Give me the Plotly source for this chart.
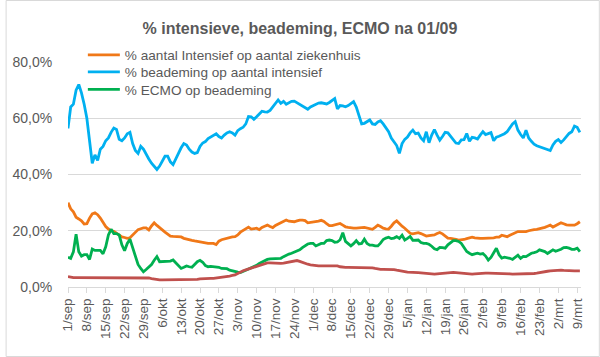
import pandas as pd
import plotly.graph_objects as go

start_date = "2020-09-01"

intensief_op_ziekenhuis = [
    30.0, 27.8, 26.7, 24.8, 24.2, 23.5, 22.4, 22.5, 24.5, 26.0,
    26.4, 25.7, 24.5, 22.9, 21.5, 20.6, 20.0, 19.8, 19.2, 18.4,
    17.8, 17.6, 17.3, 17.5, 18.4, 19.4, 20.4, 20.7, 21.0, 21.0,
    20.3, 21.7, 22.8, 21.9, 21.0, 20.1, 19.5, 18.8, 18.1, 18.0,
    17.9, 17.9, 17.8, 17.3, 17.0, 16.7, 16.6, 16.4, 16.2, 16.0,
    15.8, 15.7, 15.5, 15.5, 15.5, 15.1, 16.3, 16.8, 17.1, 17.3,
    17.6, 17.8, 17.9, 18.5, 19.5, 20.1, 20.8, 21.3, 20.6, 20.7,
    20.9, 20.4, 21.2, 21.6, 22.0, 21.5, 21.1, 21.9, 22.4, 22.9,
    23.4, 23.8, 23.4, 23.2, 23.2, 23.5, 23.8, 23.8, 23.6, 22.8,
    22.9, 23.2, 23.2, 23.4, 23.7, 23.3, 22.5, 21.8, 21.8, 22.0,
    22.3, 22.6, 22.0, 21.4, 21.2, 21.0, 20.9, 20.9, 20.9, 21.1,
    21.2, 21.0, 20.8, 20.5, 21.2, 22.0, 21.5, 20.9, 20.7, 20.6,
    21.6, 22.8, 23.5, 22.4, 21.6, 20.9, 20.0, 19.1, 18.9, 19.0,
    19.3, 19.0, 18.6, 18.1, 18.3, 18.5, 18.5, 19.0, 19.4, 18.9,
    18.3, 17.4, 17.3, 17.2, 16.9, 16.7, 16.7, 16.9, 17.2, 17.5,
    17.7, 17.5, 17.3, 17.3, 17.3, 17.3, 17.3, 17.3, 17.5, 17.7,
    17.7, 18.4, 18.2, 17.9, 18.4, 18.8, 19.4, 19.7, 19.7, 19.7,
    19.7, 20.0, 20.3, 20.4, 20.5, 20.7, 20.9, 21.2, 21.6, 22.0,
    21.3, 21.8, 22.5, 22.8, 22.5, 22.1, 22.0, 22.0, 22.0, 22.5,
    23.2,
]

beademing_op_intensief = [
    56.4, 64.0, 65.0, 70.0, 72.0, 69.0, 65.0, 60.0, 52.0, 44.0,
    47.0, 45.0, 49.0, 50.0, 52.0, 53.0, 55.0, 56.5, 56.0, 52.5,
    52.0, 53.0, 54.5, 55.0, 51.0, 48.5, 47.5, 50.0, 49.0, 47.0,
    45.5, 44.0, 43.0, 41.8, 43.0, 44.6, 46.5, 46.5, 44.5, 43.5,
    45.8, 47.5, 49.5, 51.0, 50.5, 49.0, 48.0, 47.5, 47.8, 50.0,
    51.2, 51.7, 52.8, 53.3, 53.8, 54.5, 53.5, 53.0, 54.0, 54.8,
    55.2, 54.8, 54.0, 55.6, 56.3, 56.8, 58.0, 60.6, 60.5, 59.6,
    60.5, 61.5, 62.5, 62.3, 62.2, 62.8, 64.0, 65.5, 66.5, 65.3,
    66.0, 65.0, 65.5, 66.0, 66.1, 65.5, 65.0, 64.3, 63.8, 63.2,
    64.0, 64.5, 65.1, 65.4, 65.5, 65.2, 65.1, 65.6, 66.3, 67.0,
    63.3, 64.5, 64.4, 64.1, 64.5, 65.3, 65.9, 64.0, 60.5, 58.0,
    58.2, 58.8, 59.4, 58.0, 57.8, 58.7, 59.1, 58.0, 56.5, 55.2,
    53.0, 51.5, 50.3, 47.5, 51.0, 52.5, 53.3, 54.8, 55.8, 54.5,
    54.7, 53.0, 52.0, 55.2, 51.3, 54.0, 56.0, 54.0, 52.2, 53.5,
    55.0, 54.8, 53.6, 52.5, 51.2, 51.0, 52.3, 52.4, 54.6, 51.8,
    53.2, 53.0, 52.6, 54.0, 55.2, 54.2, 54.5, 54.9, 52.0, 53.3,
    53.6, 54.0, 54.5, 55.2, 56.8, 58.0, 58.8, 55.8, 54.2, 53.0,
    55.7, 53.0, 51.8, 50.8, 50.2, 49.9, 49.6, 49.3, 49.0, 48.5,
    50.5, 51.8, 52.4, 51.4, 52.3, 53.5, 54.6, 55.2, 57.2, 56.8,
    55.0,
]

ecmo_op_beademing = [
    10.6, 10.2, 12.5, 18.8, 12.5, 11.0, 11.5, 11.5, 9.8, 13.5,
    13.0, 13.0, 13.0, 11.8, 14.3, 18.5, 20.5, 19.0, 19.0, 18.5,
    15.0, 12.9, 15.5, 17.0, 13.8, 10.5, 8.0, 6.6, 5.4, 6.2,
    7.0, 8.0, 9.5, 10.8, 9.0, 9.0, 9.0, 9.0, 9.2, 9.6,
    8.5, 7.3, 6.6, 7.0, 7.5, 7.2, 7.0, 8.0, 9.0, 9.5,
    8.8, 7.6, 7.2, 7.3, 7.2, 7.3, 7.0, 6.6, 6.6, 6.5,
    6.0, 5.7, 5.5, 5.3, 5.1, 5.5, 6.0, 6.4, 6.8, 7.2,
    7.7, 8.4, 8.9, 9.4, 9.8, 10.0, 10.1, 10.2, 10.2, 10.2,
    10.8, 11.4, 11.7, 12.0, 12.4, 12.8, 13.2, 14.0, 14.8, 15.3,
    15.5, 15.5, 14.6, 15.0, 15.5, 15.5, 16.5, 16.7, 16.5, 15.9,
    16.0, 16.8, 19.3, 16.2, 15.4, 14.6, 15.4, 16.5, 15.3, 15.5,
    17.0, 15.5, 14.9, 14.9, 14.6, 14.6, 15.6, 16.9, 17.4, 17.7,
    17.2, 17.4, 17.9, 17.3, 18.4, 16.7, 17.3, 18.0, 16.6, 16.6,
    16.7, 15.8, 15.5, 15.5, 15.2, 14.5, 13.6, 13.3, 14.1, 14.0,
    13.8, 15.0, 15.6, 16.5, 16.5, 16.2, 15.5, 13.8, 12.6, 12.0,
    11.5, 11.8, 12.0, 11.7, 11.9, 11.0, 9.6, 10.5, 12.0, 13.8,
    11.5, 10.3, 10.6, 10.5, 10.2, 9.8, 10.4, 11.3, 10.2, 10.9,
    10.8, 11.4, 12.0, 12.2, 12.5, 13.2, 12.9, 12.6, 11.9, 12.6,
    13.2, 12.7, 13.0, 13.4, 14.0, 14.1, 13.8, 13.4, 13.4, 13.8,
    12.6,
]

rode_reeks = [
    3.7, 3.4, 3.3, 3.3, 3.3, 3.3, 3.3, 3.3, 3.3, 3.3,
    3.3, 3.3, 3.3, 3.3, 3.3, 3.3, 3.3, 3.3, 3.3, 3.3,
    3.4, 3.4, 3.4, 3.4, 3.4, 3.4, 3.4, 3.4, 3.4, 3.3,
    3.2, 3.0, 2.8, 2.6, 2.5, 2.5, 2.5, 2.5, 2.5, 2.5,
    2.5, 2.5, 2.5, 2.5, 2.5, 2.5, 2.5, 2.5, 2.7, 2.9,
    3.0, 3.0, 3.0, 3.1, 3.1, 3.2, 3.3, 3.4, 3.6, 3.7,
    3.9, 4.1, 4.3, 4.8, 5.4, 5.8, 6.1, 6.4, 6.7, 7.0,
    7.3, 7.7, 8.0, 8.4, 8.6, 8.6, 8.5, 8.4, 8.4, 8.4,
    8.5, 8.7, 9.0, 9.1, 9.3, 9.4, 9.1, 8.7, 8.4, 8.1,
    7.9, 7.7, 7.6, 7.5, 7.5, 7.5, 7.5, 7.5, 7.5, 7.5,
    7.5, 7.2, 7.0, 7.0, 7.0, 7.0, 7.0, 7.0, 7.0, 7.0,
    7.0, 7.0, 7.0, 6.8, 6.6, 6.4, 6.3, 6.3, 6.3, 6.3,
    6.3, 6.2, 6.0, 5.9, 5.8, 5.5, 5.3, 5.3, 5.2, 5.2,
    5.1, 5.0, 4.9, 4.8, 4.7, 4.6, 4.6, 4.7, 4.8, 4.9,
    5.0, 5.1, 5.2, 5.2, 5.1, 5.0, 4.9, 4.9, 4.8, 4.6,
    4.6, 4.7, 4.8, 4.9, 4.9, 4.9, 4.9, 4.9, 4.9, 4.9,
    4.9, 4.9, 4.9, 4.8, 4.7, 4.6, 4.6, 4.6, 4.6, 4.6,
    4.6, 4.6, 4.6, 4.8, 4.9, 5.1, 5.4, 5.5, 5.6, 5.7,
    5.8, 5.9, 6.0, 6.0, 5.9, 5.8, 5.7, 5.7, 5.7, 5.7,
    5.7,
]

tick_dates = [
    "2020-09-01", "2020-09-08", "2020-09-15", "2020-09-22", "2020-09-29",
    "2020-10-06", "2020-10-13", "2020-10-20", "2020-10-27", "2020-11-03",
    "2020-11-10", "2020-11-17", "2020-11-24", "2020-12-01", "2020-12-08",
    "2020-12-15", "2020-12-22", "2020-12-29", "2021-01-05", "2021-01-12",
    "2021-01-19", "2021-01-26", "2021-02-02", "2021-02-09", "2021-02-16",
    "2021-02-23", "2021-03-02", "2021-03-09",
]
tick_labels = [
    "1/sep", "8/sep", "15/sep", "22/sep", "29/sep",
    "6/okt", "13/okt", "20/okt", "27/okt", "3/nov",
    "10/nov", "17/nov", "24/nov", "1/dec", "8/dec",
    "15/dec", "22/dec", "29/dec", "5/jan", "12/jan",
    "19/jan", "26/jan", "2/feb", "9/feb", "16/feb",
    "23/feb", "2/mrt", "9/mrt",
]

series_names = [
    "% aantal Intensief op aantal ziekenhuis",
    "% beademing op aantal intensief",
    "% ECMO op beademing",
    "",
]

dates = pd.date_range(start_date, periods=len(intensief_op_ziekenhuis), freq="D")

TXT = "#595959"
GRID = "#D9D9D9"
FONT = "Liberation Sans, Arial, sans-serif"

L, R, T, B = 63, 19, 62, 70
W, H = 600, 357
pw, ph = W - L - R, H - T - B

fig = go.Figure()
specs = [
    (intensief_op_ziekenhuis, "#F07818", "legend"),
    (beademing_op_intensief, "#00B0F0", "legend2"),
    (ecmo_op_beademing, "#00B050", "legend3"),
    (rode_reeks, "#C0504D", None),
]
for (vals, color, leg), name in zip(specs, series_names):
    kw = dict(legend=leg, showlegend=True) if leg else dict(showlegend=False)
    fig.add_trace(go.Scatter(
        x=dates, y=[v / 100 for v in vals], mode="lines", name=name,
        line=dict(color=color, width=2.8), **kw,
    ))

row_centers = [55, 72, 89.5]


def legend_box(yc):
    return dict(x=(88 - 10 - L) / pw, xanchor="left",
                y=(T + ph - yc) / ph, yanchor="middle", yref="paper",
                bgcolor="rgba(0,0,0,0)", itemwidth=32,
                font=dict(size=13.6, color=TXT, family=FONT))


fig.update_layout(
    width=W, height=H,
    margin=dict(l=L, r=R, t=T, b=B),
    paper_bgcolor="white", plot_bgcolor="white",
    separators=",.",
    font=dict(family=FONT, color=TXT, size=13),
    title=dict(text="<b>% intensieve, beademing, ECMO na 01/09</b>",
               x=0.5, xref="container", xanchor="center",
               y=1 - 28 / H, yref="container", yanchor="middle",
               font=dict(size=16, color=TXT, family=FONT)),
    showlegend=True,
    legend=legend_box(row_centers[0]),
    legend2=legend_box(row_centers[1]),
    legend3=legend_box(row_centers[2]),
    xaxis=dict(
        range=["2020-09-01", "2021-03-10 10:00"],
        tickvals=tick_dates, ticktext=tick_labels, tickangle=-90,
        ticks="outside", ticklen=5, tickcolor=GRID, showgrid=False,
        showline=True, linecolor=GRID, linewidth=1,
        tickfont=dict(size=13.5, color=TXT, family=FONT), zeroline=False,
    ),
    yaxis=dict(
        range=[0, 0.8], tickvals=[0, 0.2, 0.4, 0.6, 0.8], tickformat=".1%",
        showgrid=True, gridcolor=GRID, gridwidth=1, zeroline=False,
        showline=False, ticks="outside", ticklen=12, tickcolor="rgba(0,0,0,0)",
        tickfont=dict(size=14, color=TXT, family=FONT),
    ),
    shapes=[dict(type="rect", xref="paper", yref="paper",
                 x0=(0.5 - L) / pw, x1=(W - 0.5 - L) / pw,
                 y0=(T + ph - (H - 0.5)) / ph, y1=(T + ph - 0.5) / ph,
                 line=dict(color=GRID, width=1), fillcolor="rgba(0,0,0,0)",
                 layer="below")],
)

fig.write_html("out.html", config={"displayModeBar": False},
               post_script="document.body.style.margin='0';document.body.style.overflow='hidden';")
